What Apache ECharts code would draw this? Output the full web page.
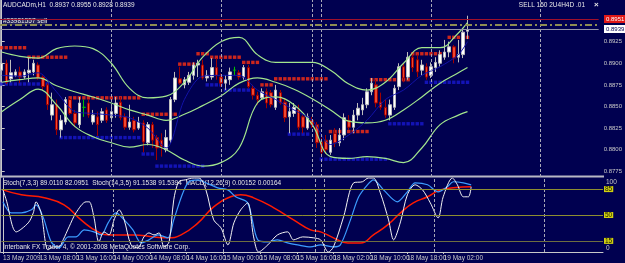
<!DOCTYPE html>
<html>
<head>
<meta charset="utf-8">
<script src="https://cdn.jsdelivr.net/npm/echarts@6/dist/echarts.min.js"></script>
<style>
html, body { margin: 0; padding: 0; background: #000050; }
#chart { width: 625px; height: 263px; }
</style>
</head>
<body>
<div id="chart"></div>
<script>
// AUDCADm H1 candles, bar index 0 = 13 May 2009 00:00
const opens = [
  0.8892, 0.8900, 0.8882, 0.8886, 0.8890, 0.8884, 0.8889, 0.8890, 0.8898, 0.8884,
  0.8875, 0.8840, 0.8852, 0.8823, 0.8832, 0.8858, 0.8842, 0.8829, 0.8849, 0.8854,
  0.8832, 0.8838, 0.8834, 0.8846, 0.8837, 0.8842, 0.8855, 0.8838, 0.8826, 0.8834,
  0.8825, 0.8831, 0.8808, 0.8829, 0.8814, 0.8811, 0.8800, 0.8811, 0.8858, 0.8882,
  0.8875, 0.8878, 0.8886, 0.8898, 0.8898, 0.8883, 0.8884, 0.8895, 0.8884, 0.8877,
  0.8881, 0.8892, 0.8889, 0.8884, 0.8895, 0.8871, 0.8863, 0.8860, 0.8867, 0.8866,
  0.8849, 0.8866, 0.8855, 0.8838, 0.8842, 0.8846, 0.8838, 0.8825, 0.8834, 0.8829,
  0.8809, 0.8811, 0.8797, 0.8819, 0.8808, 0.8817, 0.8834, 0.8826, 0.8840, 0.8846,
  0.8852, 0.8867, 0.8875, 0.8855, 0.8849, 0.8840, 0.8849, 0.8873, 0.8896, 0.8884,
  0.8907, 0.8904, 0.8892, 0.8896, 0.8886, 0.8895, 0.8900, 0.8907, 0.8913, 0.8919,
  0.8907, 0.8910, 0.8937
];
const closes = [
  0.8900, 0.8878, 0.8889, 0.8890, 0.8884, 0.8890, 0.8892, 0.8900, 0.8883, 0.8873,
  0.8852, 0.8852, 0.8823, 0.8834, 0.8858, 0.8842, 0.8831, 0.8854, 0.8849, 0.8840,
  0.8840, 0.8829, 0.8844, 0.8834, 0.8844, 0.8854, 0.8837, 0.8826, 0.8832, 0.8823,
  0.8832, 0.8809, 0.8829, 0.8811, 0.8802, 0.8804, 0.8814, 0.8858, 0.8883, 0.8877,
  0.8881, 0.8886, 0.8898, 0.8900, 0.8883, 0.8886, 0.8895, 0.8886, 0.8877, 0.8881,
  0.8890, 0.8892, 0.8884, 0.8895, 0.8873, 0.8863, 0.8858, 0.8867, 0.8854, 0.8852,
  0.8869, 0.8854, 0.8837, 0.8844, 0.8849, 0.8826, 0.8826, 0.8838, 0.8829, 0.8808,
  0.8797, 0.8800, 0.8811, 0.8808, 0.8817, 0.8837, 0.8826, 0.8840, 0.8848, 0.8852,
  0.8867, 0.8877, 0.8854, 0.8849, 0.8840, 0.8852, 0.8871, 0.8896, 0.8883, 0.8907,
  0.8895, 0.8890, 0.8898, 0.8884, 0.8896, 0.8901, 0.8910, 0.8913, 0.8919, 0.8906,
  0.8910, 0.8936, 0.8939
];
const lows = [
  0.8881, 0.8876, 0.8878, 0.8884, 0.8877, 0.8882, 0.8878, 0.8886, 0.8881, 0.8869,
  0.8846, 0.8834, 0.8817, 0.8814, 0.8829, 0.8840, 0.8826, 0.8825, 0.8838, 0.8837,
  0.8829, 0.8816, 0.8831, 0.8831, 0.8834, 0.8837, 0.8834, 0.8823, 0.8823, 0.8820,
  0.8823, 0.8797, 0.8805, 0.8802, 0.8788, 0.8792, 0.8797, 0.8808, 0.8855, 0.8875,
  0.8871, 0.8875, 0.8881, 0.8884, 0.8881, 0.8879, 0.8881, 0.8881, 0.8873, 0.8869,
  0.8875, 0.8886, 0.8881, 0.8881, 0.8871, 0.8858, 0.8852, 0.8858, 0.8848, 0.8849,
  0.8846, 0.8852, 0.8832, 0.8819, 0.8838, 0.8823, 0.8819, 0.8823, 0.8825, 0.8802,
  0.8792, 0.8795, 0.8794, 0.8803, 0.8804, 0.8811, 0.8823, 0.8819, 0.8834, 0.8840,
  0.8848, 0.8863, 0.8849, 0.8846, 0.8837, 0.8834, 0.8846, 0.8869, 0.8878, 0.8881,
  0.8890, 0.8884, 0.8886, 0.8881, 0.8883, 0.8890, 0.8896, 0.8904, 0.8907, 0.8900,
  0.8901, 0.8906, 0.8928
];
const highs = [
  0.8913, 0.8904, 0.8904, 0.8893, 0.8896, 0.8893, 0.8907, 0.8904, 0.8901, 0.8886,
  0.8877, 0.8866, 0.8858, 0.8840, 0.8861, 0.8860, 0.8846, 0.8861, 0.8858, 0.8858,
  0.8846, 0.8844, 0.8848, 0.8849, 0.8850, 0.8861, 0.8861, 0.8842, 0.8852, 0.8838,
  0.8838, 0.8834, 0.8832, 0.8832, 0.8817, 0.8819, 0.8823, 0.8861, 0.8890, 0.8896,
  0.8884, 0.8890, 0.8901, 0.8904, 0.8904, 0.8892, 0.8906, 0.8906, 0.8888, 0.8886,
  0.8895, 0.8896, 0.8892, 0.8898, 0.8898, 0.8875, 0.8867, 0.8871, 0.8871, 0.8869,
  0.8875, 0.8869, 0.8860, 0.8854, 0.8854, 0.8852, 0.8840, 0.8842, 0.8838, 0.8832,
  0.8814, 0.8817, 0.8817, 0.8825, 0.8825, 0.8842, 0.8840, 0.8846, 0.8854, 0.8860,
  0.8871, 0.8883, 0.8881, 0.8866, 0.8858, 0.8858, 0.8875, 0.8900, 0.8900, 0.8913,
  0.8910, 0.8910, 0.8904, 0.8900, 0.8901, 0.8907, 0.8915, 0.8927, 0.8925, 0.8921,
  0.8927, 0.8941, 0.8955
];

// band lines and moving average, read every 4 bars
const bandIdx = [0, 4, 8, 12, 16, 20, 24, 28, 32, 36, 40, 44, 48, 52, 56, 60, 64, 68, 72, 76, 80, 84, 88, 92, 96, 100, 102];
const bandUpper = [0.8913, 0.8908, 0.8906, 0.8917, 0.8920, 0.8917, 0.8900, 0.8871, 0.8860, 0.8862, 0.8878, 0.8907, 0.8925, 0.8930, 0.8910, 0.8901, 0.8901, 0.8901, 0.8892, 0.8876, 0.8869, 0.8878, 0.8900, 0.8918, 0.8918, 0.8935, 0.8947];
const bandMiddle = [0.8878, 0.8881, 0.8883, 0.8874, 0.8867, 0.8861, 0.8854, 0.8846, 0.8840, 0.8834, 0.8841, 0.8851, 0.8862, 0.8877, 0.8883, 0.8878, 0.8870, 0.8859, 0.8846, 0.8833, 0.8831, 0.8834, 0.8846, 0.8861, 0.8877, 0.8889, 0.8895];
const bandLower = [0.8844, 0.8858, 0.8870, 0.8852, 0.8827, 0.8815, 0.8808, 0.8803, 0.8806, 0.8800, 0.8788, 0.8781, 0.8785, 0.8802, 0.8854, 0.8861, 0.8852, 0.8829, 0.8792, 0.8790, 0.8792, 0.8790, 0.8785, 0.8802, 0.8829, 0.8840, 0.8844];
const maLine = [0.8886, 0.8885, 0.8889, 0.8867, 0.8844, 0.8842, 0.8840, 0.8837, 0.8825, 0.8802, 0.8858, 0.8885, 0.8886, 0.8886, 0.8869, 0.8858, 0.8846, 0.8834, 0.8806, 0.8817, 0.8834, 0.8858, 0.8869, 0.8886, 0.8896, 0.8910, 0.8925];

// dotted resistance / support levels: [start bar, end bar, price]
const resStart = [0, 6, 15, 31, 39, 43, 46, 53, 57, 60, 72, 81, 90, 98];
const resEnd = [5, 14, 30, 38, 42, 45, 52, 56, 59, 71, 80, 89, 96, 102];
const resLevel = [0.8918, 0.8907, 0.8860, 0.8841, 0.8899, 0.8911, 0.8907, 0.8901, 0.8875, 0.8882, 0.8821, 0.8881, 0.8911, 0.8930];
const supStart = [0, 13, 31, 34, 45, 49, 63, 70, 85, 93];
const supEnd = [10, 30, 33, 44, 48, 55, 67, 84, 92, 102];
const supLevel = [0.8876, 0.8814, 0.8795, 0.8781, 0.8875, 0.8869, 0.8818, 0.8789, 0.8830, 0.8878];

// order / price lines
const stopLevel = 0.8951;
const orderLevel = 0.8945;
const bidLevel = 0.8939;

// indicator window
const stoch7X = [0, 0.7, 2.9, 5.5, 6.6, 7.2, 8.3, 9.8, 10.9, 12.2, 13.1, 14.4, 15.9, 18.1, 18.8, 19.8, 20.9, 22.0, 23.1, 24.2, 25.3, 26.4, 27.9, 29.4, 30.7, 31.8, 32.9, 34.0, 35.1, 36.2, 37.2, 38.3, 39.8, 41.4, 42.7, 44.2, 45.9, 47.5, 49.0, 50.3, 51.8, 53.3, 54.6, 55.7, 57.7, 59.8, 62.0, 63.3, 65.3, 67.7, 69.2, 70.9, 72.0, 74.2, 76.4, 78.3, 79.6, 80.7, 82.2, 84.0, 85.1, 86.6, 88.1, 89.8, 91.4, 93.1, 94.8, 95.9, 97.9, 99.0, 100.3, 101.4, 102];
const stoch7V = [84.0, 70.5, 27.2, 39.4, 52.9, 67.8, 52.9, 2.8, 6.9, 6.9, 16.4, 34.0, 52.9, 67.8, 67.8, 47.5, 13.7, 27.2, 23.1, 43.4, 57.0, 43.4, 9.6, 5.5, 20.4, 25.8, 23.1, 25.8, 6.9, 13.7, 70.5, 94.9, 97.6, 100, 100, 84.0, 43.4, 32.6, 9.6, 39.4, 57.0, 66.4, 20.4, 0, 9.6, 23.1, 27.2, 16.4, 20.4, 19.1, 16.4, 0, 6.9, 47.5, 93.5, 94.9, 100, 100, 80.0, 43.4, 16.4, 40.7, 77.3, 90.8, 84.0, 66.4, 46.1, 74.6, 100, 90.8, 74.6, 74.6, 88.1];
const stoch14X = [0, 1.8, 4.0, 6.2, 7.2, 8.8, 10.5, 12.2, 14.2, 15.9, 17.7, 19.8, 21.4, 22.9, 24.6, 26.4, 28.3, 30.1, 31.8, 33.8, 35.9, 37.2, 39.2, 40.5, 42.5, 44.2, 46.8, 49.0, 50.7, 53.3, 55.5, 57.7, 59.8, 62.0, 64.2, 67.0, 69.2, 72.0, 73.5, 75.7, 77.5, 79.4, 80.7, 82.9, 85.9, 88.1, 89.8, 92.5, 94.8, 96.8, 98.1, 100.3, 102];
const stoch14V = [67.8, 52.9, 52.9, 57.0, 63.7, 46.1, 13.7, 5.5, 20.4, 20.4, 29.9, 27.2, 23.1, 39.4, 52.9, 43.4, 29.9, 12.3, 16.4, 23.1, 19.1, 43.4, 80.0, 94.9, 97.6, 93.5, 86.7, 84.0, 74.6, 66.4, 16.4, 13.7, 16.4, 12.3, 9.6, 6.9, 9.6, 6.9, 9.6, 43.4, 74.6, 90.8, 97.6, 84.0, 67.8, 81.3, 93.5, 90.8, 81.3, 88.1, 94.9, 93.5, 90.8];
const macdX = [0, 4.0, 9.0, 13.3, 17.0, 20.7, 23.5, 28.5, 32.9, 35.9, 38.8, 42.5, 45.9, 49.6, 51.8, 54.6, 59.0, 63.3, 67.0, 69.2, 72.0, 75.1, 77.9, 80.7, 83.8, 86.6, 89.4, 92.5, 95.3, 98.1, 102];
const macdV = [84.0, 77.3, 73.2, 63.7, 43.4, 27.2, 23.1, 23.1, 20.4, 19.1, 23.1, 39.4, 61.0, 74.6, 77.3, 73.2, 59.7, 43.4, 29.9, 27.2, 19.1, 12.3, 12.3, 23.1, 36.7, 52.9, 66.4, 74.6, 84.0, 86.7, 88.1];
const levels = [85, 50, 15];

// axes
const separators = [24, 48, 68, 70, 94, 118];
const timeTicks = [0, 8, 16, 24, 32, 40, 48, 56, 64, 72, 80, 88, 96];
const timeLabels = ['13 May 2009', '13 May 08:00', '13 May 16:00', '14 May 00:00', '14 May 08:00', '14 May 16:00', '15 May 00:00', '15 May 08:00', '15 May 16:00', '18 May 02:00', '18 May 10:00', '18 May 18:00', '19 May 02:00'];
const priceTicks = [0.8775, 0.8800, 0.8825, 0.8850, 0.8875, 0.8900, 0.8925];

const FONT = '"Liberation Sans Narrow", "Liberation Sans", Arial, sans-serif';
const FS = 6.5;
const SILVER = '#C8C8C8';
const X_MIN = -0.37, X_MAX = 130.72;

const candles = opens.map((o, i) => [i, o, closes[i], lows[i], highs[i]]);
const pairs = (xs, vs) => xs.map((x, i) => [x, vs[i]]);
function dots(starts, ends, lvls) {
    let out = [];
    starts.forEach((s, k) => {
        for (let i = s; i <= ends[k]; i++) out.push([i, lvls[k]]);
    });
    return out;
}

let chart = echarts.init(document.getElementById('chart'), null, { renderer: 'canvas' });

const noSym = ['none', 'none'];
const xBase = { type: 'value', min: X_MIN, max: X_MAX, splitLine: { show: false } };
const txt = (t, fill) => ({ text: t, fill: fill || '#E8E8E8', font: FS + 'px ' + FONT });
// padded with the axis ends so that the min/max label hiding only drops the empty end labels
const labelValues = [X_MIN].concat(timeTicks, [X_MAX]);

let option = {
    backgroundColor: '#000050',
    animation: false,
    grid: [
        { left: 0, top: 0, width: 603, height: 177 },
        { left: 0, top: 178, width: 603, height: 74 }
    ],
    xAxis: [
        Object.assign({ gridIndex: 0, show: false }, xBase),
        Object.assign({
            gridIndex: 1,
            axisLine: { lineStyle: { color: SILVER, width: 1 } },
            axisTick: { customValues: timeTicks, length: 2, lineStyle: { color: SILVER } },
            axisLabel: {
                customValues: labelValues,
                formatter: (v) => {
                    let k = timeTicks.indexOf(v);
                    return k < 0 ? '' : timeLabels[k];
                },
                showMinLabel: false, showMaxLabel: false,
                align: 'left', color: SILVER, fontSize: FS, fontFamily: FONT, margin: 3
            }
        }, xBase)
    ],
    yAxis: [
        {
            gridIndex: 0, type: 'value', position: 'right', min: 0.87684, max: 0.89732,
            splitLine: { show: false },
            axisLine: { show: true, lineStyle: { color: SILVER } },
            axisTick: { show: true, customValues: priceTicks, length: 3, lineStyle: { color: SILVER } },
            axisLabel: {
                customValues: priceTicks, formatter: (v) => v.toFixed(4),
                color: SILVER, fontSize: 6, fontFamily: FONT, margin: 5
            }
        },
        {
            gridIndex: 1, type: 'value', position: 'right', min: 0, max: 100,
            splitLine: { show: false },
            axisLine: { show: true, lineStyle: { color: SILVER } },
            axisTick: { show: false },
            axisLabel: {
                customValues: levels, color: '#202000', backgroundColor: '#CFCF10',
                padding: [0, 1, -1, 1], fontSize: FS, fontFamily: FONT, margin: 1
            }
        }
    ],
    series: [
        {
            type: 'line', name: 'upper', data: pairs(bandIdx, bandUpper), smooth: 0.4,
            showSymbol: false, lineStyle: { color: '#A2E68E', width: 1.2 },
            markLine: {
                silent: true, symbol: noSym, label: { show: false }, precision: 5,
                data: separators.map(s => ({ xAxis: s })),
                lineStyle: { color: '#A8A8B8', type: [3, 2], width: 1 }
            }
        },
        { type: 'line', name: 'middle', data: pairs(bandIdx, bandMiddle), smooth: 0.4,
          showSymbol: false, lineStyle: { color: '#A2E68E', width: 1.2 } },
        { type: 'line', name: 'lower', data: pairs(bandIdx, bandLower), smooth: 0.4,
          showSymbol: false, lineStyle: { color: '#A2E68E', width: 1.2 } },
        {
            type: 'line', name: 'ma', data: pairs(bandIdx, maLine), smooth: 0.3,
            showSymbol: false, lineStyle: { color: '#1212A8', width: 1 },
            markLine: {
                silent: true, symbol: noSym, label: { show: false }, precision: 5,
                data: [
                    { yAxis: stopLevel, lineStyle: { color: '#A0102C', width: 1, type: 'solid' } },
                    { yAxis: orderLevel, lineStyle: { color: '#8E8E52', width: 2, type: [7, 3, 2, 3] } },
                    { yAxis: bidLevel, lineStyle: { color: '#9494A8', width: 1, type: 'solid' } }
                ]
            }
        },
        {
            type: 'scatter', name: 'res', data: dots(resStart, resEnd, resLevel),
            symbol: 'rect', symbolSize: 3.4, itemStyle: { color: '#FF3010' }, silent: true
        },
        {
            type: 'scatter', name: 'sup', data: dots(supStart, supEnd, supLevel),
            symbol: 'rect', symbolSize: 3.4, itemStyle: { color: '#1818D0' }, silent: true
        },
        {
            type: 'candlestick', name: 'AUDCADm', data: candles, barWidth: 3,
            encode: { x: 0, y: [1, 2, 3, 4] },
            itemStyle: {
                color: '#FFFFFF', color0: '#F04830',
                borderColor: '#BDBDBD', borderColor0: '#A00000',
                borderColorDoji: '#00C000', borderWidth: 1
            }
        },
        // indicator window
        {
            type: 'line', xAxisIndex: 1, yAxisIndex: 1, data: pairs(macdX, macdV), smooth: 0.5,
            showSymbol: false, lineStyle: { color: '#FF1A00', width: 1.5 },
            markLine: {
                silent: true, symbol: noSym, label: { show: false }, precision: 5,
                data: separators.map(s => ({ xAxis: s, lineStyle: { color: '#A8A8B8', type: [3, 2], width: 1 } }))
                    .concat(levels.map(l => ({ yAxis: l, lineStyle: { color: l === 15 ? '#6E6E40' : '#8E8E30', type: 'solid', width: 1 } })))
            }
        },
        { type: 'line', xAxisIndex: 1, yAxisIndex: 1, data: pairs(stoch14X, stoch14V), smooth: 0.3,
          showSymbol: false, lineStyle: { color: '#3C9CFF', width: 1.2 } },
        { type: 'line', xAxisIndex: 1, yAxisIndex: 1, data: pairs(stoch7X, stoch7V), smooth: 0.3,
          showSymbol: false, lineStyle: { color: '#F2F2F2', width: 1 } }
    ],
    graphic: [
        { type: 'rect', shape: { x: 0, y: 0, width: 1, height: 253 }, style: { fill: '#A0A0B0' }, silent: true },
        { type: 'rect', shape: { x: 0, y: 175.5, width: 604, height: 2 }, style: { fill: '#B8B8C4' }, silent: true },
        { type: 'text', left: 3, top: 2, silent: true, style: txt('AUDCADm,H1  0.8937 0.8955 0.8928 0.8939') },
        { type: 'text', left: 3, top: 18, silent: true,
          style: Object.assign(txt('#33981557 sell'), { backgroundColor: '#22225A' }) },
        { type: 'text', right: 40, top: 2, silent: true, style: txt('SELL 150 2U4H4D .01') },
        { type: 'text', left: 594, top: 1, silent: true,
          style: { text: '\u00D7', fill: '#E8E8E8', font: 'bold 8px ' + FONT } },
        { type: 'rect', shape: { x: 604, y: 15, width: 21, height: 8 }, style: { fill: '#E01818' }, silent: true },
        { type: 'text', left: 606, top: 16, silent: true,
          style: { text: stopLevel.toFixed(4), fill: '#FFFFFF', font: '6px ' + FONT } },
        { type: 'rect', shape: { x: 604, y: 25, width: 21, height: 8 }, style: { fill: '#FFFFFF' }, silent: true },
        { type: 'text', left: 606, top: 26, silent: true,
          style: { text: bidLevel.toFixed(4), fill: '#000050', font: '6px ' + FONT } },
        { type: 'text', left: 606, top: 179, silent: true, style: txt('100', SILVER) },
        { type: 'text', left: 606, top: 245, silent: true, style: txt('0', SILVER) },
        { type: 'text', left: 3, top: 180, silent: true,
          style: txt('Stoch(7,3,3) 89.0110 82.0951  Stoch(14,3,5) 91.1538 91.5394  MACD(12,26,9) 0.00152 0.00164') },
        { type: 'text', left: 3, top: 244, silent: true,
          style: txt('Interbank FX Trader 4, \u00A9 2001-2008 MetaQuotes Software Corp.') }
    ]
};

option && chart.setOption(option);
</script>
</body>
</html>
